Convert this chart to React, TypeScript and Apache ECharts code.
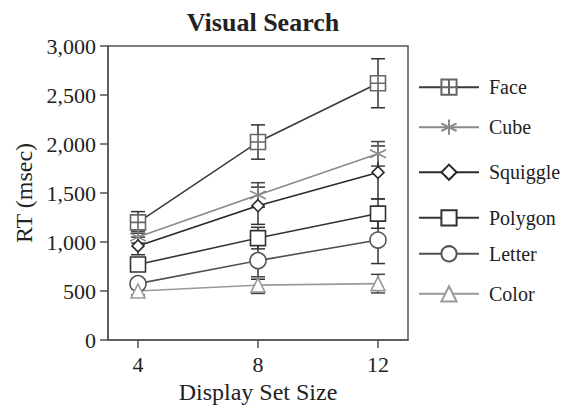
import React, { useEffect, useRef } from "react";
import * as echarts from "echarts";

const sizes = [4, 8, 12];
const seriesNames = ["Face", "Cube", "Squiggle", "Polygon", "Letter", "Color"];
const face = [1200, 2020, 2620];
const faceErr = [110, 175, 250];
const cube = [1050, 1480, 1900];
const cubeErr = [60, 125, 125];
const squiggle = [960, 1370, 1710];
const squiggleErr = [90, 190, 270];
const polygon = [770, 1040, 1290];
const polygonErr = [60, 110, 150];
const letter = [575, 810, 1020];
const letterErr = [50, 190, 240];
const color = [500, 560, 575];
const colorErr = [40, 85, 95];
const yTicks = [0, 500, 1000, 1500, 2000, 2500, 3000];

const FONT = "Liberation Serif";
const legendCenters = [86.7, 126.7, 171.7, 217.3, 253.3, 293.3];

const faceSymbol = "path://M0,0 H10 V10 H0 Z M5,0 V10 M0,5 H10";
const starSymbol = "path://M5,0 V10 M0.67,2.5 L9.33,7.5 M9.33,2.5 L0.67,7.5";

export default function App() {
  const ref = useRef<HTMLDivElement>(null);
  useEffect(() => {
    const chart = echarts.init(ref.current!, null, { renderer: "svg" });
    const values = [face, cube, squiggle, polygon, letter, color];
    const errs = [faceErr, cubeErr, squiggleErr, polygonErr, letterErr, colorErr];
    const lineColors = ["#3a3a3a", "#8a8a8a", "#2a2a2a", "#333333", "#505050", "#999999"];
    const markColors = ["#666666", "#8a8a8a", "#2a2a2a", "#333333", "#555555", "#999999"];
    const symbols = [faceSymbol, starSymbol, "diamond", "rect", "circle", "triangle"];
    const symSizes = [15, 16, 12, 15, 16, 14];

    const series: any[] = [];
    values.forEach((vals, i) => {
      series.push({
        type: "custom",
        z: 1,
        silent: true,
        data: sizes.map((s, j) => [s, vals[j] - errs[i][j], vals[j] + errs[i][j]]),
        renderItem: (params: any, api: any) => {
          const x = api.value(0);
          const lo = api.coord([x, api.value(1)]);
          const hi = api.coord([x, api.value(2)]);
          const w = 7;
          const st = { stroke: i === 1 || i === 5 ? "#444" : "#333", lineWidth: 1.5 };
          return {
            type: "group",
            children: [
              { type: "line", shape: { x1: lo[0], y1: lo[1], x2: hi[0], y2: hi[1] }, style: st },
              { type: "line", shape: { x1: lo[0] - w, y1: lo[1], x2: lo[0] + w, y2: lo[1] }, style: st },
              { type: "line", shape: { x1: hi[0] - w, y1: hi[1], x2: hi[0] + w, y2: hi[1] }, style: st },
            ],
          };
        },
      });
    });
    values.forEach((vals, i) => {
      series.push({
        type: "line",
        name: seriesNames[i],
        z: 3,
        data: sizes.map((s, j) => [s, vals[j]]),
        symbol: symbols[i],
        symbolSize: symSizes[i],
        lineStyle: { color: lineColors[i], width: 1.6 },
        itemStyle: { color: "#ffffff", borderColor: markColors[i], borderWidth: 1.6 },
        emphasis: { disabled: true },
      });
    });

    chart.setOption({
      animation: false,
      title: {
        text: "Visual Search",
        left: 258,
        top: 4,
        textAlign: "center",
        textStyle: { fontFamily: FONT, fontWeight: "bold", fontSize: 26, color: "#222" },
      },
      grid: {
        left: 108,
        right: 161,
        top: 46,
        bottom: 64.5,
        show: true,
        borderColor: "#555",
        borderWidth: 1.5,
        backgroundColor: "transparent",
      },
      legend: seriesNames.map((n, i) => ({
        data: [n],
        orient: "vertical",
        left: 418,
        top: legendCenters[i] - 9.5,
        itemWidth: 60,
        itemHeight: 19,
        padding: 0,
        textStyle: { fontFamily: FONT, fontSize: 20, color: "#222", padding: [0, 0, 0, 5] },
        selectedMode: false,
      })),
      xAxis: {
        type: "value",
        min: 3,
        max: 13,
        name: "Display Set Size",
        nameLocation: "middle",
        nameGap: 40,
        nameTextStyle: { fontFamily: FONT, fontSize: 24, color: "#222" },
        axisLine: { show: true, lineStyle: { color: "#555", width: 1.5 } },
        axisTick: { show: true, customValues: sizes, length: 8, lineStyle: { color: "#555", width: 1.5 } },
        axisLabel: { customValues: sizes, fontFamily: FONT, fontSize: 22, color: "#222", margin: 13 },
        splitLine: { show: false },
      },
      yAxis: {
        type: "value",
        min: 0,
        max: 3000,
        interval: 500,
        name: "RT (msec)",
        nameLocation: "middle",
        nameGap: 70,
        nameTextStyle: { fontFamily: FONT, fontSize: 24, color: "#222" },
        axisLine: { show: true, lineStyle: { color: "#555", width: 1.5 } },
        axisTick: { show: true, length: 8, lineStyle: { color: "#555", width: 1.5 } },
        axisLabel: {
          fontFamily: FONT,
          fontSize: 22,
          color: "#222",
          margin: 12,
          formatter: (v: number) => (yTicks.includes(v) ? v.toLocaleString("en-US") : ""),
        },
        splitLine: { show: false },
      },
      series,
    });
    return () => chart.dispose();
  }, []);
  return (
    <div
      ref={ref}
      style={{ position: "absolute", left: 0, top: 0, width: 569, height: 409, background: "#fff" }}
    />
  );
}
